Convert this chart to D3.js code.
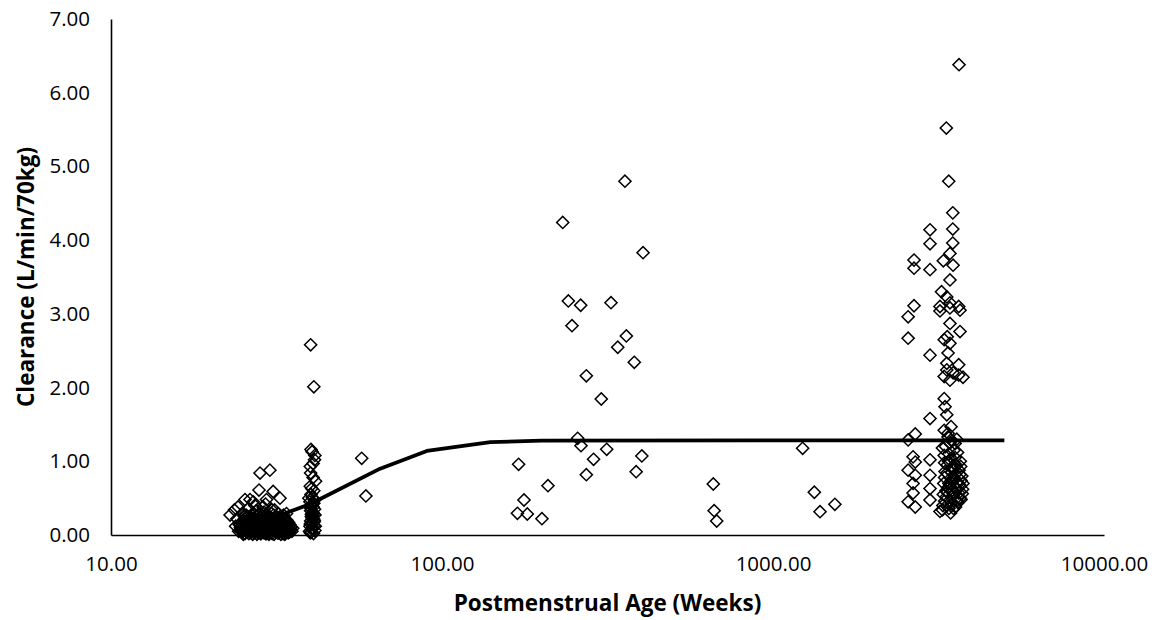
<!DOCTYPE html>
<html>
<head>
<meta charset="UTF-8">
<title>Clearance vs Postmenstrual Age</title>
<script src="https://d3js.org/d3.v7.min.js"></script>
<style>
  body { margin: 0; background: #fff; }
  text { font-family: "Open Sans", "Noto Sans", sans-serif; fill: #000; }
  .tick-label { font-size: 20.5px; }
  .axis-title { font-size: 22.5px; font-weight: bold; }
</style>
</head>
<body>
<div id="chart"></div>
<script>
// observed points as [postmenstrual age (weeks), clearance (L/min/70kg)]
var preterm = [
  [28.2, 0.84], [30.2, 0.88], [28.0, 0.61], [30.9, 0.59], [32.4, 0.50], [29.5, 0.48],
  [25.4, 0.48], [26.3, 0.48], [26.9, 0.45], [24.2, 0.38], [22.9, 0.27], [23.6, 0.34],
  [33.9, 0.29], [24.0, 0.22], [24.5, 0.15], [24.8, 0.08], [25.0, 0.30], [25.3, 0.18],
  [25.6, 0.05], [25.9, 0.25], [26.2, 0.12], [26.5, 0.03], [26.8, 0.20], [27.0, 0.28],
  [27.3, 0.10], [27.6, 0.16], [27.9, 0.04], [28.1, 0.24], [28.4, 0.13], [28.7, 0.07],
  [29.0, 0.31], [29.2, 0.19], [29.5, 0.02], [29.8, 0.11], [30.0, 0.26], [30.3, 0.15],
  [30.6, 0.06], [30.9, 0.21], [31.2, 0.34], [31.5, 0.09], [31.8, 0.17], [32.1, 0.03],
  [32.5, 0.23], [32.9, 0.12], [33.3, 0.06], [33.7, 0.18], [34.2, 0.09], [34.7, 0.14],
  [35.2, 0.05], [26.0, 0.36], [27.5, 0.33], [28.8, 0.38], [30.5, 0.35], [29.3, 0.42],
  [27.2, 0.40], [31.0, 0.27], [32.0, 0.29], [25.2, 0.26], [23.8, 0.12], [24.3, 0.05],
  [26.7, 0.14], [28.5, 0.20], [29.7, 0.22], [30.8, 0.12], [33.0, 0.24], [34.0, 0.20],
  [35.0, 0.11], [31.6, 0.04], [28.0, 0.09], [26.4, 0.21], [27.8, 0.27], [30.1, 0.08],
  [32.7, 0.15], [24.6, 0.10], [24.9, 0.04], [25.1, 0.19], [25.5, 0.08], [25.8, 0.14],
  [26.1, 0.02], [26.3, 0.17], [26.6, 0.07], [26.9, 0.11], [27.1, 0.03], [27.4, 0.13],
  [27.7, 0.06], [28.0, 0.18], [28.3, 0.02], [28.6, 0.10], [28.9, 0.05], [29.1, 0.15],
  [29.4, 0.07], [29.6, 0.12], [29.9, 0.03], [30.2, 0.17], [30.4, 0.09], [30.7, 0.02],
  [31.0, 0.14], [31.3, 0.06], [31.6, 0.11], [31.9, 0.03], [32.2, 0.08], [32.6, 0.19],
  [33.0, 0.04], [33.4, 0.12], [33.8, 0.07], [34.3, 0.03], [34.8, 0.08], [25.0, 0.06],
  [25.7, 0.13], [26.2, 0.09], [26.8, 0.01], [27.3, 0.06], [27.9, 0.12], [28.4, 0.02],
  [29.0, 0.08], [29.6, 0.14], [30.1, 0.04], [30.7, 0.10], [31.3, 0.05], [31.9, 0.16],
  [32.6, 0.01], [33.2, 0.10], [24.4, 0.14], [25.4, 0.02], [26.0, 0.09], [26.6, 0.05],
  [27.2, 0.11], [27.8, 0.03], [28.3, 0.08], [28.9, 0.04], [29.5, 0.12], [30.0, 0.01],
  [30.6, 0.07], [31.2, 0.13], [31.8, 0.04], [32.4, 0.10], [33.1, 0.02], [33.8, 0.05],
  [34.5, 0.12], [27.0, 0.23], [28.6, 0.19], [29.9, 0.25], [31.4, 0.21],
  [25.2, 0.11], [25.6, 0.16], [25.9, 0.07], [26.3, 0.13], [26.7, 0.18], [27.0, 0.09],
  [27.4, 0.15], [27.7, 0.20], [28.1, 0.08], [28.5, 0.14], [28.8, 0.11], [29.2, 0.06],
  [29.5, 0.18], [29.9, 0.13], [30.3, 0.20], [30.6, 0.10], [31.0, 0.16], [31.4, 0.07],
  [31.7, 0.13], [32.1, 0.18], [32.5, 0.06], [32.9, 0.15], [33.3, 0.09], [33.6, 0.14],
  [34.1, 0.05], [24.7, 0.06], [25.1, 0.01], [25.5, 0.12], [25.8, 0.04], [26.2, 0.06],
  [26.5, 0.11], [26.9, 0.05], [27.2, 0.08], [27.6, 0.01], [27.9, 0.07], [28.2, 0.11],
  [28.6, 0.04], [29.0, 0.12], [29.3, 0.02], [29.7, 0.06], [30.1, 0.11], [30.4, 0.04],
  [30.8, 0.07], [31.1, 0.01], [31.5, 0.12], [31.8, 0.07], [32.3, 0.04], [32.7, 0.09],
  [33.1, 0.06], [33.5, 0.01], [34.0, 0.10], [34.6, 0.04], [25.3, 0.22], [25.7, 0.09],
  [26.1, 0.17], [26.4, 0.24], [26.8, 0.08], [27.1, 0.19], [27.5, 0.05], [27.8, 0.22],
  [28.2, 0.16], [28.6, 0.26], [29.0, 0.03], [29.3, 0.21], [29.7, 0.10], [30.0, 0.18],
  [30.4, 0.23], [30.7, 0.14], [31.1, 0.19], [31.5, 0.24], [31.8, 0.10], [32.2, 0.21],
  [32.6, 0.13], [33.0, 0.17], [33.5, 0.21], [34.4, 0.17], [35.4, 0.09], [24.9, 0.16],
  [26.0, 0.20], [27.0, 0.13], [28.0, 0.21], [29.1, 0.09], [30.2, 0.05], [31.2, 0.09],
  [32.4, 0.16], [33.6, 0.03], [25.6, 0.27], [26.9, 0.30], [28.3, 0.29], [29.4, 0.26],
  [30.6, 0.29], [31.9, 0.24], [33.2, 0.27]
];
var termNeonates = [
  [40.1, 2.58], [41.0, 2.01], [40.2, 1.16], [41.3, 1.08], [40.8, 0.97], [40.1, 0.84],
  [40.0, 0.66], [41.0, 0.60], [39.6, 0.50], [40.6, 0.42], [41.2, 0.35], [40.3, 0.28],
  [40.9, 0.22], [40.0, 0.15], [41.4, 0.12], [40.4, 0.08], [39.8, 0.05], [41.1, 0.18],
  [40.7, 0.31], [40.2, 0.55], [41.5, 0.73], [40.5, 1.13], [40.0, 0.03], [40.6, 0.10],
  [41.1, 0.20], [40.3, 0.25], [40.8, 0.38], [39.9, 0.45], [41.3, 0.06], [40.5, 0.14],
  [40.1, 0.33], [40.9, 0.02], [41.2, 0.47], [40.4, 0.17], [40.7, 0.26], [40.2, 0.40],
  [40.3, 0.04], [40.7, 0.09], [41.0, 0.13], [40.1, 0.19], [40.5, 0.23], [40.9, 0.29],
  [40.2, 0.36], [40.6, 0.51], [41.3, 0.27], [39.9, 0.12], [41.0, 0.43], [40.4, 0.63],
  [40.8, 0.78], [40.0, 0.93], [41.2, 1.02],
  [57.2, 1.04], [58.9, 0.53]
];
var children = [
  [231.6, 4.24], [405, 3.83], [240.8, 3.175], [262.4, 3.117], [324, 3.152], [247, 2.84],
  [360.5, 2.70], [339.6, 2.547], [381, 2.343], [272.9, 2.16], [302.8, 1.845], [257, 1.312],
  [263, 1.212], [314.5, 1.163], [287, 1.027], [401.6, 1.072], [386, 0.859], [272.9, 0.818],
  [170.4, 0.959], [209, 0.669], [176.9, 0.475], [169, 0.294], [181, 0.285], [200.4, 0.221],
  [357, 4.80], [660, 0.692], [664, 0.33], [676, 0.19], [1229, 1.176], [1333, 0.58],
  [1387, 0.316], [1538, 0.416]
];
var adults = [
  [3648, 6.38], [3339, 5.52], [3396, 4.80], [3493, 4.37], [2981, 4.14], [3493, 4.15],
  [2981, 3.95], [3493, 3.96], [2667, 3.73], [2667, 3.62], [2981, 3.60], [3270, 3.72],
  [3425, 3.82], [3500, 3.66], [3425, 3.46], [3230, 3.30], [3350, 3.23], [3425, 3.15],
  [2667, 3.11], [3195, 3.10], [3640, 3.10], [2560, 2.96], [2560, 2.67], [3195, 3.04],
  [3425, 3.08], [3673, 3.05], [3425, 2.87], [3673, 2.76], [3290, 2.65], [3425, 2.60],
  [3360, 2.69], [2981, 2.44], [3380, 2.47], [3350, 2.33], [3640, 2.31], [3290, 2.15],
  [3425, 2.10], [3640, 2.17], [3500, 2.20], [3750, 2.14], [3350, 2.24], [3290, 1.85],
  [3310, 1.74], [3350, 1.63], [2981, 1.58], [2560, 1.29], [2690, 1.37], [3290, 1.42],
  [3380, 1.33], [3450, 1.29], [3550, 1.24], [2650, 1.06], [2690, 0.99], [2981, 1.02],
  [2560, 0.88], [2981, 0.81], [2690, 0.81], [2650, 0.70], [2981, 0.63], [2650, 0.57],
  [2981, 0.475], [2560, 0.45], [2690, 0.38], [3195, 0.32], [3250, 1.18], [3400, 1.10],
  [3550, 1.05], [3300, 0.98], [3480, 0.92], [3650, 0.88], [3350, 0.84], [3520, 0.78],
  [3700, 0.74], [3280, 0.70], [3430, 0.66], [3600, 0.62], [3360, 0.58], [3500, 0.54],
  [3680, 0.50], [3300, 0.46], [3450, 0.42], [3560, 0.38], [3250, 0.34], [3400, 0.36],
  [3620, 0.44], [3750, 0.70], [3720, 0.80], [3380, 1.38], [3450, 1.47], [3320, 1.20],
  [3550, 0.96], [3470, 0.60], [3340, 0.52], [3600, 0.72], [3420, 1.02], [3580, 0.94],
  [3310, 0.86], [3490, 0.76], [3660, 0.68], [3370, 0.64], [3530, 0.56], [3700, 0.48],
  [3260, 0.40], [3440, 0.30], [3610, 1.12], [3390, 1.00], [3550, 0.82], [3480, 0.90],
  [3330, 0.60], [3640, 0.57], [3510, 0.66], [3290, 1.08], [3460, 0.74], [3690, 0.93],
  [3360, 0.95], [3520, 1.15], [3680, 1.00], [3300, 0.78], [3460, 0.85], [3620, 0.52],
  [3400, 0.70], [3580, 0.46], [3740, 0.62], [3270, 0.55], [3430, 1.25], [3590, 1.30],
  [3350, 0.40], [3510, 0.36], [3670, 0.82], [3730, 0.56]
];

// maturation model prediction
var curvePma = [26, 40, 65, 90, 140, 200, 5000];
var curveCl = [0.11, 0.42, 0.90, 1.14, 1.26, 1.28, 1.285];

var xTicks = [10, 100, 1000, 10000];
var yTicks = [0, 1, 2, 3, 4, 5, 6, 7];

var width = 1157, height = 620;
var margin = {top: 19, right: 53, bottom: 85, left: 111};

var svg = d3.select("#chart").append("svg")
    .attr("width", width).attr("height", height);

var x = d3.scaleLog().domain([10, 10000]).range([margin.left, width - margin.right]);
var y = d3.scaleLinear().domain([0, 7]).range([height - margin.bottom, margin.top]);

var fmt = d3.format(".2f");

// axes
var xAxis = svg.append("g")
    .attr("transform", "translate(0," + y(0) + ")")
    .call(d3.axisBottom(x).tickValues(xTicks).tickFormat(fmt).tickSize(0).tickPadding(21));
var yAxis = svg.append("g")
    .attr("transform", "translate(" + x(10) + ",0)")
    .call(d3.axisLeft(y).tickValues(yTicks).tickFormat(fmt).tickSize(0).tickPadding(21));

[xAxis, yAxis].forEach(function (g) {
    g.select(".domain").attr("stroke", "#000").attr("stroke-width", 1.6);
    g.selectAll("text").attr("class", "tick-label").attr("fill", "#000");
    g.attr("font-family", null).attr("font-size", null);
});

// scatter: white fills first, outlines on top so overlaps show every edge
var pts = preterm.concat(termNeonates, children, adults);
var diamond = d3.symbol().type(d3.symbolSquare).size(74);
var place = function (d) { return "translate(" + x(d[0]) + "," + y(d[1]) + ") rotate(45)"; };

svg.append("g").selectAll("path")
    .data(pts)
    .enter().append("path")
    .attr("d", diamond)
    .attr("transform", place)
    .attr("fill", "#fff");

svg.append("g").selectAll("path")
    .data(pts)
    .enter().append("path")
    .attr("d", diamond)
    .attr("transform", place)
    .attr("fill", "none")
    .attr("stroke", "#000")
    .attr("stroke-width", 1.5);

// model line
var line = d3.line()
    .x(function (d) { return x(d[0]); })
    .y(function (d) { return y(d[1]); });

svg.append("path")
    .datum(curvePma.map(function (d, i) { return [d, curveCl[i]]; }))
    .attr("d", line)
    .attr("fill", "none")
    .attr("stroke", "#000")
    .attr("stroke-width", 3.8)
    .attr("stroke-linejoin", "round");

// titles
svg.append("text")
    .attr("class", "axis-title")
    .attr("x", (x(10) + x(10000)) / 2)
    .attr("y", 603)
    .attr("dy", "0.35em")
    .attr("text-anchor", "middle")
    .text("Postmenstrual Age (Weeks)");

svg.append("text")
    .attr("class", "axis-title")
    .attr("transform", "translate(26," + (y(0) + y(7)) / 2 + ") rotate(-90)")
    .attr("dy", "0.35em")
    .attr("text-anchor", "middle")
    .text("Clearance (L/min/70kg)");
</script>
</body>
</html>
